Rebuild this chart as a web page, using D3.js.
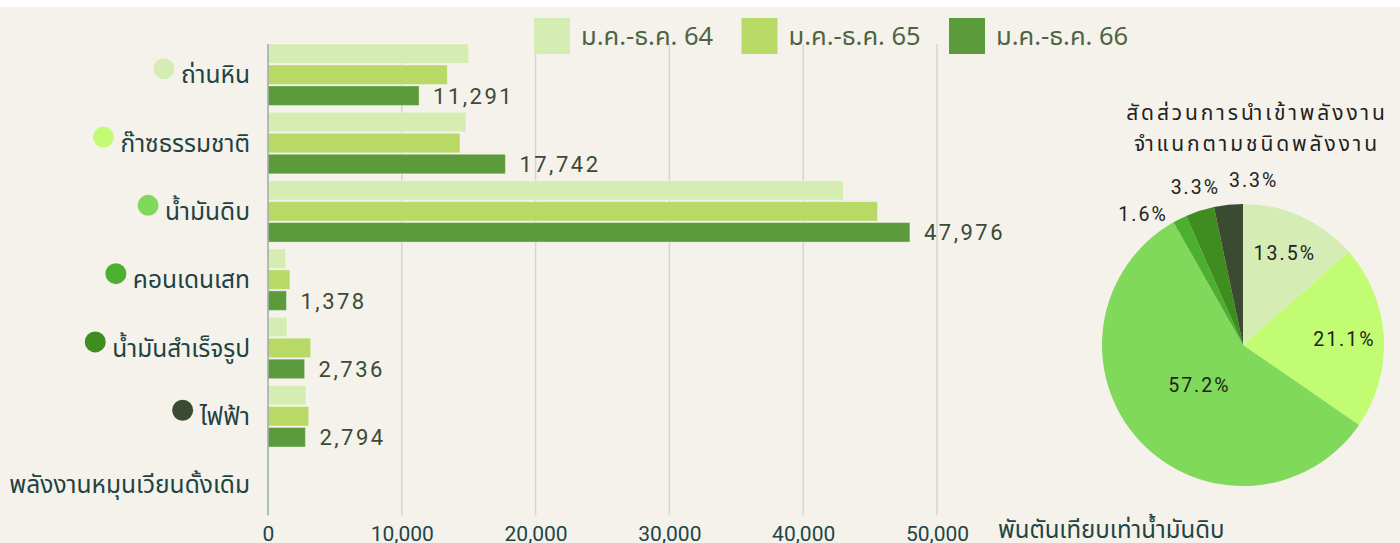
<html>
<head>
<meta charset="utf-8">
<title>Energy imports</title>
<style>
  body { margin: 0; background: #fff; }
  svg { display: block; }
  .thai { font-family: "Noto Sans Thai", "Noto Sans Thai Looped", "Noto Sans", sans-serif; }
  .num { font-family: Roboto, "Noto Sans", sans-serif; }
</style>
<script src="https://d3js.org/d3.v7.min.js"></script>
</head>
<body>
<svg width="1400" height="543"></svg>
<script>
var categories = ["ถ่านหิน", "ก๊าซธรรมชาติ", "น้ำมันดิบ", "คอนเดนเสท", "น้ำมันสำเร็จรูป", "ไฟฟ้า", "พลังงานหมุนเวียนดั้งเดิม"];
var seriesNames = ["ม.ค.-ธ.ค. 64", "ม.ค.-ธ.ค. 65", "ม.ค.-ธ.ค. 66"];
var y64 = [15000, 14800, 43000, 1320, 1420, 2840, 90];
var y65 = [13400, 14350, 45550, 1640, 3190, 3040, 6];
var y66 = [11291, 17742, 47976, 1378, 2736, 2794, 6];
var xTicks = [0, 10000, 20000, 30000, 40000, 50000];
var pieShares = [13.5, 21.1, 57.2, 1.6, 3.3, 3.3];
var pieTitle = ["สัดส่วนการนำเข้าพลังงาน", "จำแนกตามชนิดพลังงาน"];
var unitLabel = "พันตันเทียบเท่าน้ำมันดิบ";

var barColors = ["#d5edb3", "#b8d965", "#5c9b3b"];
var catColors = ["#d5ecb5", "#c2fc72", "#80d95b", "#4caf2f", "#3f8d1e", "#3b4b31"];

var svg = d3.select("svg");
svg.append("rect").attr("width", 1400).attr("height", 543).attr("fill", "#f5f2eb");
svg.append("rect").attr("width", 1400).attr("height", 7).attr("fill", "#ffffff");

var rows = categories.map(function(c, i) {
  return {cat: c, vals: [y64[i], y65[i], y66[i]]};
});

var x = d3.scaleLinear().domain([0, 50000]).range([268, 937]);
var y = d3.scaleBand().domain(categories).range([40.6, 518.7]).paddingInner(0.1).paddingOuter(0.05);
var yInner = d3.scaleBand().domain([0, 1, 2]).range([0, y.bandwidth()]).paddingInner(0.07);

// grid
svg.append("g").selectAll("line")
  .data(xTicks.slice(1))
  .enter().append("line")
  .attr("x1", d => x(d)).attr("x2", d => x(d))
  .attr("y1", y(categories[0])).attr("y2", y(categories[6]) + y.bandwidth())
  .attr("stroke", "#d3d6d0").attr("stroke-width", 1.5);

// bars
var groups = svg.append("g").selectAll("g")
  .data(rows)
  .enter().append("g")
  .attr("transform", d => "translate(0," + y(d.cat) + ")");

groups.selectAll("rect")
  .data(d => d.vals)
  .enter().append("rect")
  .attr("x", x(0))
  .attr("y", (d, i) => yInner(i))
  .attr("width", d => x(d) - x(0))
  .attr("height", yInner.bandwidth())
  .attr("fill", (d, i) => barColors[i])
  .attr("stroke", "rgba(255,255,255,0.35)")
  .attr("stroke-width", 1);

groups.filter(d => d.vals[2] >= 100).append("text")
  .attr("class", "num")
  .attr("x", d => x(d.vals[2]) + 14)
  .attr("y", yInner(2) + yInner.bandwidth() / 2)
  .attr("dy", "0.36em")
  .attr("fill", "#3b4a35")
  .style("font-size", "22px")
  .style("letter-spacing", "2.5px")
  .text(d => d3.format(",")(d.vals[2]));

// left axis line
svg.append("line")
  .attr("x1", x(0)).attr("x2", x(0))
  .attr("y1", y(categories[0])).attr("y2", y(categories[6]) + y.bandwidth())
  .attr("stroke", "#9aabab").attr("stroke-width", 1.5);

// category labels + dots
var catG = svg.append("g").selectAll("g")
  .data(categories)
  .enter().append("g")
  .attr("transform", d => "translate(250," + (y(d) + y.bandwidth() / 2) + ")");

catG.append("text")
  .attr("class", "thai")
  .attr("text-anchor", "end")
  .attr("dy", "0.35em")
  .attr("fill", "#1d4343")
  .style("font-size", "24.5px")
  .text(d => d);

catG.each(function(d, i) {
  if (i >= catColors.length) return;
  var g = d3.select(this);
  var w = g.select("text").node().getComputedTextLength();
  g.insert("circle", "text")
    .attr("cx", -w - 17)
    .attr("cy", -6)
    .attr("r", 10.5)
    .attr("fill", catColors[i]);
});

// bottom axis
var xAxis = svg.append("g")
  .attr("transform", "translate(0,520)")
  .call(d3.axisBottom(x).tickValues(xTicks).tickFormat(d3.format(",")).tickSize(0).tickPadding(6));
xAxis.select(".domain").remove();
xAxis.selectAll("text")
  .attr("class", "num")
  .attr("fill", "#1d4545")
  .style("font-size", "21px");

svg.append("text")
  .attr("class", "thai")
  .attr("x", 998).attr("y", 530)
  .attr("dy", "0.35em")
  .attr("fill", "#1d4545")
  .style("font-size", "24px")
  .text(unitLabel);

// legend
var leg = svg.append("g").selectAll("g")
  .data(seriesNames)
  .enter().append("g")
  .attr("transform", (d, i) => "translate(" + (534 + i * 207.5) + ",18)");
leg.append("rect").attr("width", 36).attr("height", 36).attr("fill", (d, i) => barColors[i]);
leg.append("text")
  .attr("class", "thai")
  .attr("x", 47).attr("y", 18).attr("dy", "0.35em")
  .attr("fill", "#4c6444")
  .style("font-size", "25.5px")
  .text(d => d);

// pie
var cx = 1243, cy = 345, R = 141;
var pieG = svg.append("g").attr("transform", "translate(" + cx + "," + cy + ")");
var arcs = d3.pie().sort(null).value(d => d)(pieShares);
var arc = d3.arc().innerRadius(0).outerRadius(R);

pieG.selectAll("path")
  .data(arcs)
  .enter().append("path")
  .attr("d", arc)
  .attr("fill", (d, i) => catColors[i]);

var outside = arcs.filter(d => d.data < 5);
var meanA = d3.mean(outside, d => (d.startAngle + d.endAngle) / 2);
var sep = 20.5 * Math.PI / 180;

function labelPos(d) {
  var a, r;
  if (d.data >= 5) {
    a = (d.startAngle + d.endAngle) / 2;
    r = d.data > 50 ? R * 0.42 : R * 0.72;
  } else {
    var k = outside.indexOf(d);
    a = meanA + (k - (outside.length - 1) / 2) * sep;
    r = R * 1.17;
  }
  return [Math.sin(a) * r, -Math.cos(a) * r];
}

pieG.selectAll("text.pl")
  .data(arcs)
  .enter().append("text")
  .attr("class", "pl num")
  .attr("text-anchor", "middle")
  .attr("dy", "0.36em")
  .attr("x", d => labelPos(d)[0])
  .attr("y", d => labelPos(d)[1])
  .attr("fill", "#222")
  .style("font-size", "19.5px")
  .style("letter-spacing", "2px")
  .text(d => d.data.toFixed(1) + "%");

svg.append("g").selectAll("text")
  .data(pieTitle)
  .enter().append("text")
  .attr("class", "thai")
  .attr("x", 1257)
  .attr("y", (d, i) => 113 + i * 31)
  .attr("dy", "0.35em")
  .attr("text-anchor", "middle")
  .attr("fill", "#222")
  .style("font-size", "21px")
  .style("letter-spacing", "2.9px")
  .text(d => d);
</script>
</body>
</html>
